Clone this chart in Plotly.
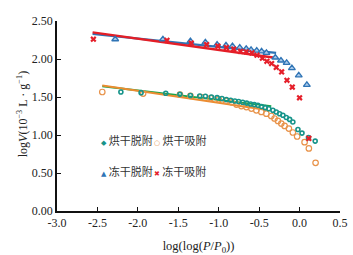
import plotly.graph_objects as go

# ---------------- data ----------------
# 烘干脱附 (oven-dried, desorption)
hd_x = [-2.21, -1.96, -1.655, -1.48, -1.35, -1.235, -1.165, -1.09, -1.02, -0.96,
        -0.905, -0.852, -0.80, -0.753, -0.704, -0.654, -0.605, -0.56, -0.515, -0.47,
        -0.425, -0.38, -0.33, -0.288, -0.247, -0.206, -0.164, -0.123, -0.083, -0.02,
        0.03, 0.11, 0.193]
hd_y = [1.565, 1.557, 1.55, 1.535, 1.52, 1.513, 1.51, 1.50, 1.492, 1.48,
        1.467, 1.457, 1.448, 1.44, 1.43, 1.42, 1.408, 1.40, 1.39, 1.375,
        1.36, 1.345, 1.325, 1.303, 1.28, 1.26, 1.23, 1.205, 1.172, 1.072,
        1.025, 0.965, 0.92]

# 烘干吸附 (oven-dried, adsorption)
ha_x = [-2.44, -1.935, -1.48, -1.35, -1.22, -1.10, -1.00, -0.91, -0.84, -0.78,
        -0.72, -0.658, -0.596, -0.535, -0.473, -0.411, -0.35, -0.31, -0.268, -0.226,
        -0.185, -0.132, -0.083, -0.03, 0.062, 0.115, 0.198]
ha_y = [1.566, 1.545, 1.53, 1.515, 1.50, 1.485, 1.47, 1.45, 1.43, 1.40,
        1.38, 1.368, 1.348, 1.325, 1.303, 1.28, 1.25, 1.217, 1.185, 1.15,
        1.12, 1.085, 1.033, 0.98, 0.905, 0.823, 0.634]

# 冻干脱附 (freeze-dried, desorption)
fd_x = [-2.28, -1.69, -1.35, -1.165, -1.02, -0.91, -0.83, -0.74, -0.66, -0.60,
        -0.53, -0.47, -0.41, -0.30, -0.23, -0.16, -0.095, -0.01, 0.09]
fd_y = [2.26, 2.26, 2.235, 2.22, 2.19, 2.18, 2.17, 2.15, 2.135, 2.12,
        2.11, 2.10, 2.08, 2.02, 1.98, 1.95, 1.88, 1.785, 1.66]

# 冻干吸附 (freeze-dried, adsorption)
fa_x = [-2.55, -1.64, -1.34, -1.15, -1.01, -0.905, -0.815, -0.73, -0.66, -0.59,
        -0.527, -0.46, -0.404, -0.346, -0.288, -0.222, -0.156, -0.09, 0.0, 0.115]
fa_y = [2.26, 2.245, 2.21, 2.19, 2.17, 2.15, 2.13, 2.10, 2.095, 2.08,
        2.05, 2.01, 1.97, 1.94, 1.89, 1.83, 1.72, 1.63, 1.49, 0.955]

# linear fits (start / end)
fit_fd_x = [-2.56, -0.29]
fit_fd_y = [2.33, 2.08]
fit_fa_x = [-2.56, -0.33]
fit_fa_y = [2.35, 2.02]
fit_hd_x = [-2.44, -0.35]
fit_hd_y = [1.64, 1.38]
fit_ha_x = [-2.44, -0.40]
fit_ha_y = [1.65, 1.33]

x_ticks = [-3.0, -2.5, -2.0, -1.5, -1.0, -0.5, 0.0, 0.5]
x_ticktext = ["-3.0", "-2.5", "-2.0", "-1.5", "-1.0", "-0.5", "0.0", "0.5"]
y_ticks = [0.0, 0.5, 1.0, 1.5, 2.0, 2.5]
y_ticktext = ["0.00", "0.50", "1.00", "1.50", "2.00", "2.50"]

legend_names = ["烘干脱附", "烘干吸附", "冻干脱附", "冻干吸附"]

# ---------------- colours ----------------
C_TEAL = "#17948a"
C_ORANGE = "#e8934a"
C_BLUE = "#2f74b5"
C_BLUE_FILL = "#a9c9ea"
C_RED = "#e51f2a"
C_GREEN = "#18a54a"
C_FIT_ORANGE = "#ec8c30"
C_FIT_BLUE = "#2f74b5"
C_FIT_RED = "#e41e26"

SERIF = "Liberation Serif, Times New Roman, Noto Sans CJK SC, serif"

fig = go.Figure()

# fitted lines
fig.add_trace(go.Scatter(x=fit_hd_x, y=fit_hd_y, mode="lines",
                         line=dict(color=C_GREEN, width=2), showlegend=False))
fig.add_trace(go.Scatter(x=fit_ha_x, y=fit_ha_y, mode="lines",
                         line=dict(color=C_FIT_ORANGE, width=2), showlegend=False))
fig.add_trace(go.Scatter(x=fit_fd_x, y=fit_fd_y, mode="lines",
                         line=dict(color=C_FIT_BLUE, width=2.2), showlegend=False))
fig.add_trace(go.Scatter(x=fit_fa_x, y=fit_fa_y, mode="lines",
                         line=dict(color=C_FIT_RED, width=2.4), showlegend=False))

# data points
fig.add_trace(go.Scatter(x=ha_x, y=ha_y, mode="markers", name=legend_names[1],
                         marker=dict(symbol="circle-open", size=5.5, color=C_ORANGE,
                                     line=dict(width=1.2, color=C_ORANGE)),
                         showlegend=False))
fig.add_trace(go.Scatter(x=hd_x, y=hd_y, mode="markers", name=legend_names[0],
                         marker=dict(symbol="circle-open", size=4, color=C_TEAL,
                                     line=dict(width=1.6, color=C_TEAL)),
                         showlegend=False))
fig.add_trace(go.Scatter(x=fd_x, y=fd_y, mode="markers", name=legend_names[2],
                         marker=dict(symbol="triangle-up", size=6, color=C_BLUE_FILL,
                                     line=dict(width=1.3, color=C_BLUE)),
                         showlegend=False))
fig.add_trace(go.Scatter(x=fa_x, y=fa_y, mode="markers", name=legend_names[3],
                         marker=dict(symbol="x", size=5.5, color=C_RED,
                                     line=dict(width=0)),
                         showlegend=False))

# legend (2 x 2 grid, drawn as text inside plot area)
legend_items = [
    (legend_names[0], "◆", C_TEAL, 0.150, 0.376),
    (legend_names[1], "○", C_ORANGE, 0.336, 0.376),
    (legend_names[2], "▲", C_BLUE, 0.150, 0.210),
    (legend_names[3], "✖", C_RED, 0.336, 0.210),
]
for name, sym, col, lx, ly in legend_items:
    fig.add_annotation(
        xref="paper", yref="paper", x=lx, y=ly, xanchor="left", yanchor="middle",
        text=f"<span style='color:{col};font-size:7px;font-family:DejaVu Sans'>{sym}</span> {name}",
        showarrow=False, font=dict(family="Noto Sans CJK SC", size=11, color="#333"),
    )

# y-axis title placed precisely
fig.add_annotation(
    xref="paper", yref="paper", x=-0.123, y=0.51, xanchor="center", yanchor="middle",
    textangle=-90, showarrow=False,
    text="log<i>V</i>(10<sup>−3</sup> L · g<sup>−1</sup>)",
    font=dict(family=SERIF, size=12, color="#222"),
)

fig.update_layout(
    width=353, height=255,
    margin=dict(l=57, r=12.5, t=20.5, b=44),
    paper_bgcolor="white", plot_bgcolor="white",
    font=dict(family=SERIF, size=12, color="#222"),
    showlegend=False,
)
fig.update_xaxes(
    range=[-3.0, 0.5], tickvals=x_ticks, ticktext=x_ticktext,
    showgrid=False, zeroline=False, automargin=False,
    showline=True, linecolor="#111", linewidth=1.6,
    ticks="inside", ticklen=4, tickcolor="#111", tickwidth=1,
    tickfont=dict(family=SERIF, size=12, color="#222"),
    title=dict(text="log(log(<i>P</i>/<i>P</i><sub>0</sub>))",
               font=dict(family=SERIF, size=12.5, color="#222")),
)
fig.update_yaxes(
    range=[0, 2.5], tickvals=y_ticks, ticktext=y_ticktext,
    showgrid=False, zeroline=False, automargin=False,
    showline=True, linecolor="#111", linewidth=1.6,
    ticks="inside", ticklen=4, tickcolor="#111", tickwidth=1,
    tickfont=dict(family=SERIF, size=12, color="#222"),
)

fig.write_html(
    "out.html",
    config={"displayModeBar": False},
    post_script="document.body.style.margin='0px';document.body.style.overflow='hidden';",
)
